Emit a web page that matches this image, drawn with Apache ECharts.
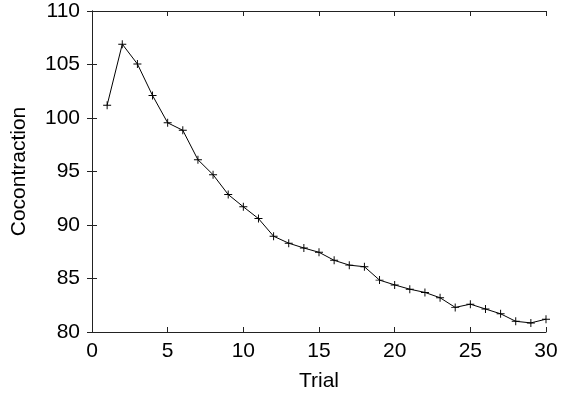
<!DOCTYPE html>
<html>
<head>
<meta charset="utf-8">
<script src="https://cdn.jsdelivr.net/npm/echarts@6/dist/echarts.min.js"></script>
<style>
  html, body { margin: 0; padding: 0; background: #fff; }
  #chart { width: 564px; height: 399px; }
</style>
</head>
<body>
<div id="chart"></div>
<script>
// values
var trials = [1, 2, 3, 4, 5, 6, 7, 8, 9, 10, 11, 12, 13, 14, 15,
              16, 17, 18, 19, 20, 21, 22, 23, 24, 25, 26, 27, 28, 29, 30];
var cocontraction = [101.2, 106.9, 105.05, 102.1, 99.55, 98.85, 96.1, 94.7, 92.85, 91.7,
                     90.6, 88.95, 88.3, 87.85, 87.45, 86.7, 86.25, 86.1, 84.85, 84.4,
                     84.0, 83.7, 83.2, 82.3, 82.6, 82.15, 81.7, 81.0, 80.85, 81.2];
var xTicks = [0, 5, 10, 15, 20, 25, 30];
var yTicks = [80, 85, 90, 95, 100, 105, 110];

var FONT = '"Liberation Sans", Arial, sans-serif';
var frame = '#222';

var chart = echarts.init(document.getElementById('chart'));

var baseX = {
  type: 'value',
  min: xTicks[0],
  max: xTicks[xTicks.length - 1],
  interval: xTicks[1] - xTicks[0],
  axisLine: {show: true, lineStyle: {color: frame, width: 1}},
  axisTick: {show: true, inside: true, length: 5, lineStyle: {color: frame}},
  splitLine: {show: false}
};
var baseY = {
  type: 'value',
  min: yTicks[0],
  max: yTicks[yTicks.length - 1],
  interval: yTicks[1] - yTicks[0],
  axisLine: {show: true, lineStyle: {color: frame, width: 1}},
  axisTick: {show: true, inside: true, length: 5, lineStyle: {color: frame}},
  splitLine: {show: false}
};

chart.setOption({
  animation: false,
  backgroundColor: '#fff',
  grid: {left: 92, right: 18, top: 11, bottom: 67},
  xAxis: [
    Object.assign({}, baseX, {
      position: 'bottom',
      name: 'Trial',
      nameLocation: 'middle',
      nameGap: 39,
      nameTextStyle: {color: '#000', fontSize: 21, fontFamily: FONT},
      axisLabel: {color: '#000', fontSize: 21, fontFamily: FONT, margin: 9}
    }),
    Object.assign({}, baseX, {
      position: 'top',
      axisLabel: {show: false}
    })
  ],
  yAxis: [
    Object.assign({}, baseY, {
      position: 'left',
      name: 'Cocontraction',
      nameLocation: 'middle',
      nameGap: 62,
      nameTextStyle: {color: '#000', fontSize: 21, fontFamily: FONT},
      axisLabel: {color: '#000', fontSize: 21, fontFamily: FONT, margin: 12}
    }),
    Object.assign({}, baseY, {
      position: 'right',
      axisLabel: {show: false}
    })
  ],
  series: [
    {
      type: 'line',
      data: trials.map(function (t, i) { return [t, cocontraction[i]]; }),
      symbol: 'path://M-0.12,-1H0.12V-0.12H1V0.12H0.12V1H-0.12V0.12H-1V-0.12H-0.12Z',
      symbolSize: 8,
      showAllSymbol: true,
      lineStyle: {color: '#000', width: 1},
      itemStyle: {color: '#000'}
    }
  ]
});
</script>
</body>
</html>
